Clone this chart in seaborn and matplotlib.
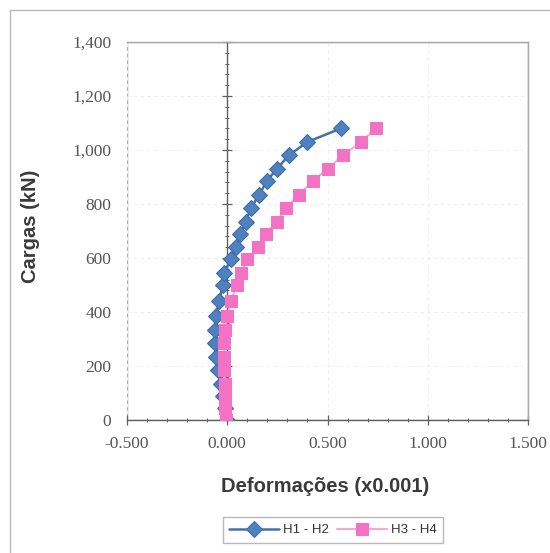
import numpy as np
import pandas as pd
import matplotlib
matplotlib.use("Agg")
import matplotlib.pyplot as plt
from matplotlib.patches import Rectangle
from matplotlib.ticker import MultipleLocator, FuncFormatter
import seaborn as sns

# Load steps (kN) and measured strains (x0.001) for the two gauge pairs
cargas = [0, 45, 90, 135, 185, 235, 285, 335, 385, 440, 500, 545, 595,
          640, 690, 735, 785, 835, 885, 930, 980, 1030, 1080]
h1_h2 = [0.000, -0.010, -0.020, -0.030, -0.048, -0.055, -0.060, -0.060,
         -0.057, -0.040, -0.023, -0.015, 0.018, 0.043, 0.063, 0.093,
         0.118, 0.160, 0.197, 0.247, 0.307, 0.400, 0.568]
h3_h4 = [-0.005, -0.010, -0.012, -0.013, -0.014, -0.015, -0.015, -0.010,
         0.000, 0.018, 0.047, 0.068, 0.100, 0.152, 0.193, 0.247, 0.293,
         0.357, 0.427, 0.500, 0.577, 0.668, 0.740]
series_names = ["H1 - H2", "H3 - H4"]

x_ticks = [-0.5, 0.0, 0.5, 1.0, 1.5]
y_ticks = [0, 200, 400, 600, 800, 1000, 1200, 1400]

sns.set_theme(style="white")
plt.rcParams["font.family"] = ["DejaVu Sans"]

W, H = 550, 553
fig = plt.figure(figsize=(W / 100, H / 100), dpi=100)
fig.patch.set_facecolor("white")

# outer chart frame
fig.patches.append(Rectangle((10 / W, -0.5), 2.0, (H - 10) / H + 0.5,
                             transform=fig.transFigure, fill=False,
                             edgecolor="#b8b8b8", linewidth=1.0))

ax = fig.add_axes([127 / W, (H - 420) / H, (528 - 127) / W, (420 - 42) / H])
ax.set_facecolor("white")

df1 = pd.DataFrame({"def": h1_h2, "carga": cargas})
df2 = pd.DataFrame({"def": h3_h4, "carga": cargas})

sns.lineplot(data=df1, x="def", y="carga", sort=False, estimator=None,
             ax=ax, color="#4472A8", linewidth=1.8, marker="D",
             markersize=8, markerfacecolor="#4F81C0",
             markeredgecolor="#3C6AA6", label=series_names[0], zorder=3)
sns.lineplot(data=df2, x="def", y="carga", sort=False, estimator=None,
             ax=ax, color="#F7A8D8", linewidth=1.5, marker="s",
             markersize=8, markerfacecolor="#F472C4",
             markeredgecolor="#F472C4", label=series_names[1], zorder=4)

ax.set_xlim(-0.5, 1.5)
ax.set_ylim(0, 1400)
ax.set_xticks(x_ticks)
ax.set_yticks(y_ticks)
ax.xaxis.set_minor_locator(MultipleLocator(0.1))
ax.yaxis.set_minor_locator(MultipleLocator(40))
ax.xaxis.set_major_formatter(FuncFormatter(lambda v, p: f"{v:.3f}"))
ax.yaxis.set_major_formatter(FuncFormatter(lambda v, p: f"{v:,.0f}"))

# faint dashed gridlines
ax.grid(True, which="major", linestyle=(0, (3, 3)), color="#efefef",
        linewidth=0.8)

# value axis crosses at zero strain
for s in ["top", "right"]:
    ax.spines[s].set_color("#a8a8a8")
    ax.spines[s].set_linewidth(1.0)
ax.spines["left"].set_position(("data", 0))
ax.spines["left"].set_color("#606060")
ax.spines["left"].set_linewidth(1.0)
ax.spines["left"].set_zorder(2)
ax.spines["bottom"].set_color("#606060")
ax.spines["bottom"].set_linewidth(1.0)
ax.add_patch(Rectangle((0, 0), 1, 1, transform=ax.transAxes, fill=False,
                       edgecolor="#a8a8a8", linewidth=1.0, zorder=0.5))

tick_font = {"family": "Liberation Serif", "size": 12.5}
ax.tick_params(axis="x", which="major", direction="inout", length=7,
               width=0.9, color="#606060", pad=8, labelcolor="#555555",
               bottom=True)
ax.tick_params(axis="x", which="minor", direction="inout", length=3.5,
               width=0.7, color="#606060", bottom=True)
ax.tick_params(axis="y", which="major", direction="inout", length=7,
               width=0.9, color="#606060", pad=80, labelcolor="#555555",
               left=True)
ax.tick_params(axis="y", which="minor", direction="inout", length=3.5,
               width=0.7, color="#606060", left=True)
for lbl in ax.get_xticklabels() + ax.get_yticklabels():
    lbl.set_fontfamily(tick_font["family"])
    lbl.set_fontsize(tick_font["size"])

ax.set_xlabel("")
ax.set_ylabel("")
fig.text(30 / W, 1 - 226 / H, "Cargas (kN)", rotation=90, ha="center",
         va="center", fontsize=14.5, fontweight="bold", color="#3a3a3a",
         family="Liberation Sans")
fig.text(325 / W, 1 - 487 / H, "Deformações (x0.001)", ha="center",
         va="center", fontsize=14.5, fontweight="bold", color="#3a3a3a",
         family="Liberation Sans")

handles, labels = ax.get_legend_handles_labels()
order = [labels.index(n) for n in series_names]
leg = ax.legend([handles[i] for i in order], [labels[i] for i in order],
                loc="center", bbox_to_anchor=(333 / W, 1 - 530 / H),
                bbox_transform=fig.transFigure, ncol=2, frameon=True,
                fancybox=False, edgecolor="#a8a8a8", handlelength=3.8,
                columnspacing=0.6, handletextpad=0.3, borderpad=0.5,
                prop={"family": "Liberation Sans", "size": 9.5})
leg.get_frame().set_linewidth(1.0)
for t in leg.get_texts():
    t.set_color("#333333")

fig.savefig("out.png", dpi=100)
